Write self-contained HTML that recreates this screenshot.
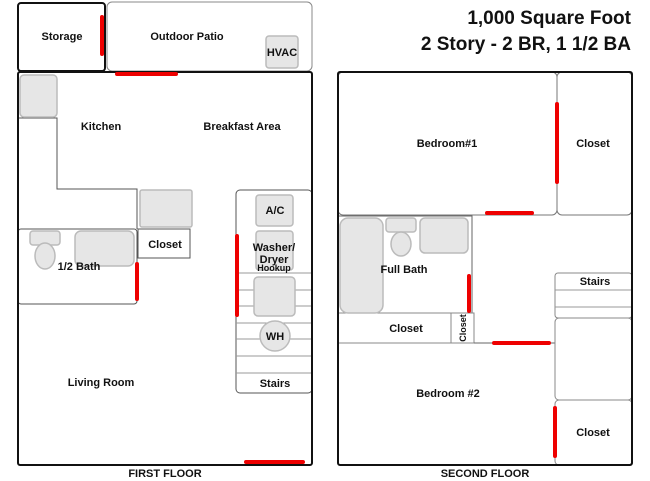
<!DOCTYPE html>
<html><head><style>body{margin:0;background:#fff}svg{display:block}text{font-family:"Liberation Sans",sans-serif;font-weight:bold;fill:#111;text-anchor:middle}text.r{text-anchor:end}</style></head><body>
<svg width="650" height="481" viewBox="0 0 650 481">
<g fill="none" stroke="#555" stroke-width="1">
<rect x="107" y="2" width="205" height="69" rx="5" stroke="#888"/>
<path d="M18 118H57V189H137V229"/>
<rect x="138" y="229" width="52" height="29"/>
<rect x="18" y="229" width="119" height="75" rx="3"/>
<rect x="236" y="190" width="76" height="203" rx="4"/>
<path d="M236 273H312M236 290H312M236 306H312M236 323H312M236 339H312M236 356H312M236 373H312" stroke="#999"/>
<rect x="338" y="72" width="219" height="143" rx="5" stroke="#777"/>
<rect x="557" y="72" width="75" height="143" rx="5" stroke="#777"/>
<path d="M338 216H472V313" stroke="#666"/>
<rect x="338" y="313" width="136" height="30" stroke="#888"/>
<rect x="451" y="313" width="23" height="30" stroke="#888"/>
<path d="M474 343H555" stroke="#666"/>
<rect x="555" y="273" width="77" height="45" rx="3" stroke="#888"/>
<path d="M555 290H632M555 307H632" stroke="#999"/>
<rect x="555" y="318" width="77" height="82" rx="4" stroke="#888"/>
<rect x="555" y="400" width="77" height="65" rx="4" stroke="#888"/>
</g>
<g fill="#e6e6e6" stroke="#bbb" stroke-width="1.5">
<rect x="266" y="36" width="32" height="32" rx="3"/>
<rect x="20" y="75" width="37" height="42" rx="4"/>
<rect x="140" y="190" width="52" height="37" rx="2"/>
<rect x="30" y="231" width="30" height="14" rx="3"/>
<ellipse cx="45" cy="256" rx="10" ry="13"/>
<rect x="75" y="231" width="59" height="35" rx="6"/>
<rect x="256" y="195" width="37" height="31" rx="3"/>
<rect x="256" y="231" width="37" height="39" rx="3"/>
<rect x="254" y="277" width="41" height="39" rx="4"/>
<circle cx="275" cy="336" r="15"/>
<rect x="340" y="218" width="43" height="95" rx="8"/>
<rect x="386" y="218" width="30" height="14" rx="3"/>
<ellipse cx="401" cy="244" rx="10" ry="12"/>
<rect x="420" y="218" width="48" height="35" rx="5"/>
</g>
<g fill="none" stroke="#111" stroke-width="2">
<rect x="18" y="3" width="87" height="68" rx="3"/>
<rect x="18" y="72" width="294" height="393" rx="2"/>
<rect x="338" y="72" width="294" height="393" rx="2"/>
</g>
<g stroke="#e00" stroke-width="4" stroke-linecap="round">
<path d="M102 17V54M117 74H176M137 264V299M237 236V315M246 462H303M557 104V182M487 213H532M469 276V311M494 343H549M555 408V456"/>
</g>
<g font-size="11">
<text x="62" y="40">Storage</text>
<text x="187" y="40">Outdoor Patio</text>
<text x="282" y="56">HVAC</text>
<text x="101" y="130">Kitchen</text>
<text x="242" y="130">Breakfast Area</text>
<text x="275" y="214">A/C</text>
<text x="165" y="248">Closet</text>
<text x="274" y="251">Washer/</text>
<text x="274" y="263">Dryer</text>
<text x="274" y="271" font-size="9">Hookup</text>
<text x="79" y="270">1/2 Bath</text>
<text x="275" y="340">WH</text>
<text x="101" y="386">Living Room</text>
<text x="275" y="387">Stairs</text>
<text x="165" y="477">FIRST FLOOR</text>
<text x="447" y="147">Bedroom#1</text>
<text x="593" y="147">Closet</text>
<text x="404" y="273">Full Bath</text>
<text x="595" y="285">Stairs</text>
<text x="406" y="332">Closet</text>
<text x="0" y="0" font-size="9" transform="translate(466 328) rotate(-90)">Closet</text>
<text x="448" y="397">Bedroom #2</text>
<text x="593" y="436">Closet</text>
<text x="485" y="477">SECOND FLOOR</text>
</g>
<text class="r" x="631" y="24" font-size="19">1,000 Square Foot</text>
<text class="r" x="631" y="50" font-size="19">2 Story - 2 BR, 1 1/2 BA</text>
</svg>
</body></html>
